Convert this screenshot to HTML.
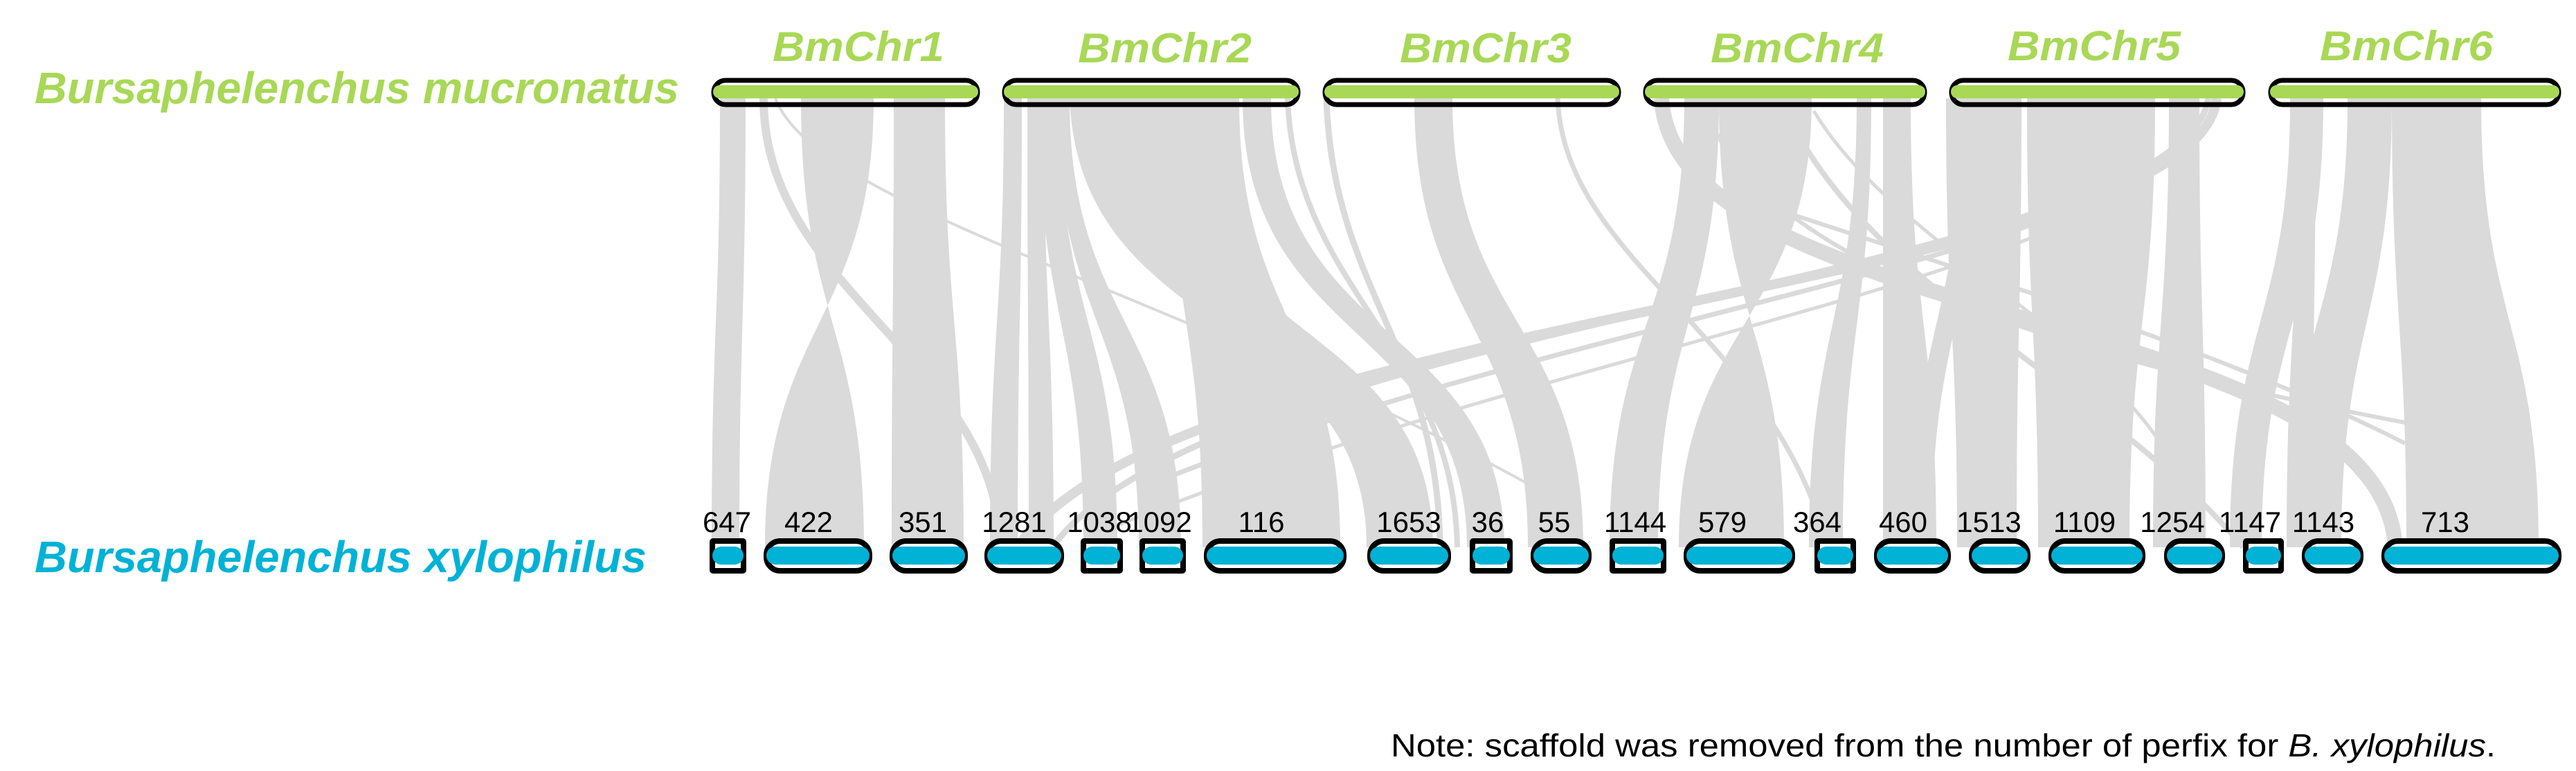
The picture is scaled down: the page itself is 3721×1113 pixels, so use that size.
<!DOCTYPE html>
<html><head><meta charset="utf-8"><style>
html,body{margin:0;padding:0;background:#fff;}
svg{display:block;}
</style></head><body>
<svg width="3721" height="1113" viewBox="0 0 3721 1113" xmlns="http://www.w3.org/2000/svg">
<g fill="#dadada" stroke="none">
<!-- chr1 -->
<path d="M1040,142 C1040,466 1028,466 1028,790 L1068,790 C1068,466 1077,466 1077,142 Z"/>
<path d="M1157,142 C1157,466 1248,466 1248,790 L1105,790 C1105,466 1262,466 1262,142 Z"/>
<path d="M1291,142 C1291,466 1288,466 1288,790 L1392,790 C1392,466 1365,466 1365,142 Z"/>
<!-- chr2 -->
<path d="M1450,142 C1450,466 1430,466 1430,790 L1470,790 C1470,466 1476,466 1476,142 Z"/>
<path d="M1484,142 C1484,466 1486,466 1486,790 L1522,790 C1522,466 1508,466 1508,142 Z"/>
<path d="M1500,142 C1500,466 1565,466 1565,790 L1614,790 C1614,466 1530,466 1530,142 Z"/>
<path d="M1525,142 C1525,466 1645,466 1645,790 L1706,790 C1706,466 1545,466 1545,142 Z"/>
<path d="M1545,142 C1560,500 1974,450 1974,790 L2070,790 C2070,450 1690,500 1690,142 Z"/>
<path d="M1690,142 C1690,466 1737,466 1737,790 L1936,790 C1936,466 1790,466 1790,142 Z"/>
<path d="M1795,142 C1795,500 2119,466 2119,790 L2173,790 C2173,466 1836,500 1836,142 Z"/>
<!-- chr3 -->
<path d="M2043,142 C2043,466 2207,466 2207,790 L2287,790 C2287,466 2098,466 2098,142 Z"/>
<!-- chr4 -->
<path d="M2433,142 C2433,466 2325,466 2325,790 L2395,790 C2395,466 2483,466 2483,142 Z"/>
<path d="M2483,142 C2483,466 2577,466 2577,790 L2425,790 C2425,466 2617,466 2617,142 Z"/>
<path d="M2682,142 C2682,466 2613,466 2613,790 L2662,790 C2662,466 2703,466 2703,142 Z"/>
<path d="M2720,142 C2720,466 2720,466 2720,790 L2797,790 C2797,466 2760,466 2760,142 Z"/>
<!-- chr5 -->
<path d="M2811,142 C2811,466 2827,466 2827,790 L2913,790 C2913,466 2920,466 2920,142 Z"/>
<path d="M2835,142 C2835,466 2760,466 2760,790 L2790,790 C2790,466 2860,466 2860,142 Z"/>
<path d="M2928,142 C2928,466 2944,466 2944,790 L3076,790 C3076,466 3060,466 3060,142 Z"/>
<path d="M3060,142 C3060,466 3040,466 3040,790 L3076,790 C3076,466 3113,466 3113,142 Z"/>
<path d="M3133,142 C3133,466 3110,466 3110,790 L3186,790 C3186,466 3177,466 3177,142 Z"/>
<!-- chr6 -->
<path d="M3308,142 C3308,466 3221,466 3221,790 L3267,790 C3267,466 3356,466 3356,142 Z"/>
<path d="M3322,142 C3322,466 3303,466 3303,790 L3340,790 C3340,466 3345,466 3345,142 Z"/>
<path d="M3391,142 C3391,466 3303,466 3303,790 L3382,790 C3382,466 3455,466 3455,142 Z"/>
<path d="M3455,142 C3455,466 3476,466 3476,790 L3667,790 C3667,466 3584,466 3584,142 Z"/>
</g>
<g fill="none" stroke="#dadada" stroke-linecap="butt">
<path d="M1103,142 C1103,420 1440,520 1445,790" stroke-width="12"/>
<path d="M1120,142 C1180,300 1700,420 2210,700" stroke-width="4"/>
<path d="M1916,142 C1925,420 2078,500 2080,790" stroke-width="9"/>
<path d="M1860,142 C1870,420 2100,500 2105,790" stroke-width="8"/>
<path d="M2250,142 C2260,380 2560,480 2640,790" stroke-width="7"/>
<path d="M2400,142 C2420,480 3440,440 3460,790" stroke-width="22"/>
<path d="M2460,142 C2520,380 3000,520 3474,610" stroke-width="6"/>
<path d="M2580,160 C2700,420 3050,560 3240,790" stroke-width="8"/>
<path d="M2620,160 C2750,380 3150,520 3180,790" stroke-width="5"/>
<path d="M3202,142 C3170,420 1700,450 1470,790" stroke-width="14"/>
<path d="M3190,142 C3150,400 1760,460 1520,790" stroke-width="9"/>
<path d="M3000,300 C2700,420 2100,520 1660,700" stroke-width="7"/>
<path d="M2990,320 C2700,450 2100,560 1610,760" stroke-width="5"/>
<path d="M2560,300 C2800,380 3200,500 3474,640" stroke-width="6"/>
</g>
<!-- top bars -->
<g>
<rect x="1031" y="116" width="381" height="35" rx="17" fill="none" stroke="#000" stroke-width="7"/>
<rect x="1030" y="123" width="383" height="19" rx="9.5" fill="#a8d856"/>
<rect x="1451" y="116" width="424" height="35" rx="17" fill="none" stroke="#000" stroke-width="7"/>
<rect x="1450" y="123" width="426" height="19" rx="9.5" fill="#a8d856"/>
<rect x="1914" y="116" width="424" height="35" rx="17" fill="none" stroke="#000" stroke-width="7"/>
<rect x="1913" y="123" width="426" height="19" rx="9.5" fill="#a8d856"/>
<rect x="2377" y="116" width="403" height="35" rx="17" fill="none" stroke="#000" stroke-width="7"/>
<rect x="2376" y="123" width="405" height="19" rx="9.5" fill="#a8d856"/>
<rect x="2819" y="116" width="421" height="35" rx="17" fill="none" stroke="#000" stroke-width="7"/>
<rect x="2818" y="123" width="423" height="19" rx="9.5" fill="#a8d856"/>
<rect x="3280" y="116" width="416" height="35" rx="17" fill="none" stroke="#000" stroke-width="7"/>
<rect x="3279" y="123" width="418" height="19" rx="9.5" fill="#a8d856"/>
</g>
<!-- bottom bars -->
<g stroke="#000" stroke-width="8" fill="#fff">
<rect x="1029" y="781" width="45" height="43" rx="1"/>
<rect x="1107" y="781" width="149" height="43" rx="20"/>
<rect x="1289" y="781" width="105" height="43" rx="20"/>
<rect x="1426" y="781" width="107" height="43" rx="20"/>
<rect x="1565" y="781" width="53" height="43" rx="1"/>
<rect x="1650" y="781" width="59" height="43" rx="1"/>
<rect x="1743" y="781" width="198" height="43" rx="20"/>
<rect x="1979" y="781" width="113" height="43" rx="20"/>
<rect x="2127" y="781" width="54" height="43" rx="1"/>
<rect x="2215" y="781" width="80" height="43" rx="20"/>
<rect x="2329" y="781" width="74" height="43" rx="1"/>
<rect x="2436" y="781" width="153" height="43" rx="20"/>
<rect x="2625" y="781" width="52" height="43" rx="1"/>
<rect x="2711" y="781" width="103" height="43" rx="20"/>
<rect x="2848" y="781" width="81" height="43" rx="20"/>
<rect x="2963" y="781" width="132" height="43" rx="20"/>
<rect x="3130" y="781" width="80" height="43" rx="20"/>
<rect x="3244" y="781" width="51" height="43" rx="1"/>
<rect x="3329" y="781" width="81" height="43" rx="20"/>
<rect x="3444" y="781" width="252" height="43" rx="20"/>
</g>
<g fill="#00b2d6">
<rect x="1029" y="789" width="45" height="26" rx="13"/>
<rect x="1107" y="789" width="149" height="26" rx="13"/>
<rect x="1289" y="789" width="105" height="26" rx="13"/>
<rect x="1426" y="789" width="107" height="26" rx="13"/>
<rect x="1565" y="789" width="53" height="26" rx="13"/>
<rect x="1650" y="789" width="59" height="26" rx="13"/>
<rect x="1743" y="789" width="198" height="26" rx="13"/>
<rect x="1979" y="789" width="113" height="26" rx="13"/>
<rect x="2127" y="789" width="54" height="26" rx="13"/>
<rect x="2215" y="789" width="80" height="26" rx="13"/>
<rect x="2329" y="789" width="74" height="26" rx="13"/>
<rect x="2436" y="789" width="153" height="26" rx="13"/>
<rect x="2625" y="789" width="52" height="26" rx="13"/>
<rect x="2711" y="789" width="103" height="26" rx="13"/>
<rect x="2848" y="789" width="81" height="26" rx="13"/>
<rect x="2963" y="789" width="132" height="26" rx="13"/>
<rect x="3130" y="789" width="80" height="26" rx="13"/>
<rect x="3244" y="789" width="51" height="26" rx="13"/>
<rect x="3329" y="789" width="81" height="26" rx="13"/>
<rect x="3444" y="789" width="252" height="26" rx="13"/>
</g>
<g font-family="Liberation Sans, Arial, sans-serif" font-size="42" fill="#000" text-anchor="middle">
<text x="1050" y="768">647</text>
<text x="1168" y="768">422</text>
<text x="1333" y="768">351</text>
<text x="1465" y="768">1281</text>
<text x="1588" y="768">1038</text>
<text x="1675" y="768">1092</text>
<text x="1822" y="768">116</text>
<text x="2035" y="768">1653</text>
<text x="2149" y="768">36</text>
<text x="2245" y="768">55</text>
<text x="2362" y="768">1144</text>
<text x="2488" y="768">579</text>
<text x="2625" y="768">364</text>
<text x="2749" y="768">460</text>
<text x="2873" y="768">1513</text>
<text x="3011" y="768">1109</text>
<text x="3138" y="768">1254</text>
<text x="3250" y="768">1147</text>
<text x="3356" y="768">1143</text>
<text x="3532" y="768">713</text>
</g>
<g font-family="Liberation Sans, Arial, sans-serif" font-weight="bold" font-style="italic" fill="#a8d856" font-size="60">
<text x="50" y="149" font-size="64" textLength="931" lengthAdjust="spacingAndGlyphs">Bursaphelenchus mucronatus</text>
<text x="1116" y="88" textLength="248" lengthAdjust="spacingAndGlyphs">BmChr1</text>
<text x="1557" y="90" textLength="251" lengthAdjust="spacingAndGlyphs">BmChr2</text>
<text x="2022" y="90" textLength="248" lengthAdjust="spacingAndGlyphs">BmChr3</text>
<text x="2471" y="90" textLength="250" lengthAdjust="spacingAndGlyphs">BmChr4</text>
<text x="2900" y="87" textLength="250" lengthAdjust="spacingAndGlyphs">BmChr5</text>
<text x="3351" y="87" textLength="250" lengthAdjust="spacingAndGlyphs">BmChr6</text>
</g>
<text x="50" y="826" font-family="Liberation Sans, Arial, sans-serif" font-weight="bold" font-style="italic" fill="#00b2d6" font-size="64" textLength="884" lengthAdjust="spacingAndGlyphs">Bursaphelenchus xylophilus</text>
<text x="2009" y="1092" font-family="Liberation Sans, Arial, sans-serif" font-size="46" fill="#000" textLength="1596" lengthAdjust="spacingAndGlyphs">Note: scaffold was removed from the number of perfix for <tspan font-style="italic">  B. xylophilus</tspan>.</text>
</svg>
</body></html>
